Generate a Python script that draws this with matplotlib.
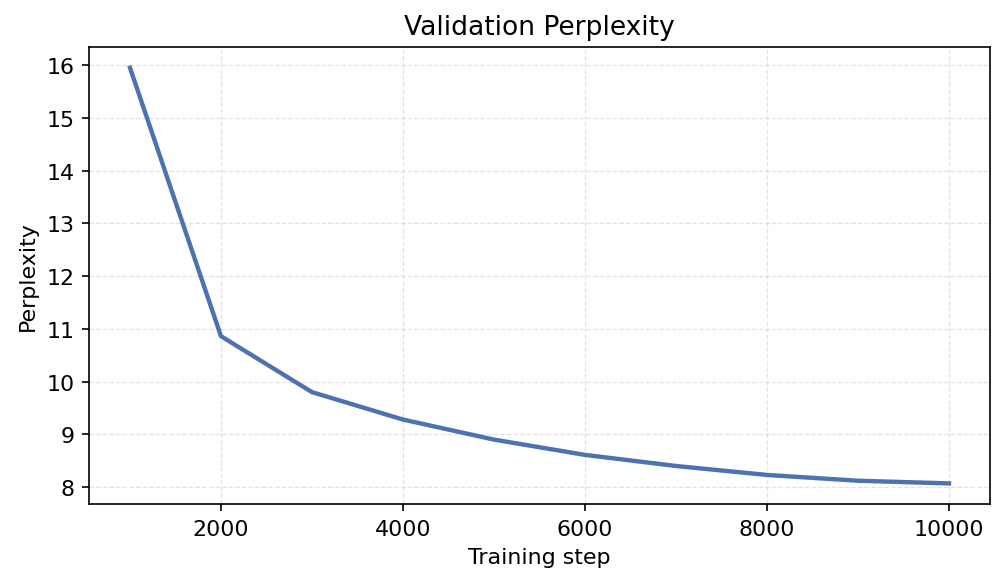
import matplotlib
matplotlib.use('Agg')
import matplotlib.pyplot as plt

steps = [1000, 2000, 3000, 4000, 5000, 6000, 7000, 8000, 9000, 10000]
perplexity = [15.95, 10.86, 9.80, 9.28, 8.90, 8.61, 8.40, 8.23, 8.12, 8.07]

plt.rcParams['font.size'] = 10.6

fig, ax = plt.subplots(figsize=(6.7, 3.893), dpi=150)
ax.plot(steps, perplexity, color='#4C72B0', linewidth=2.1)
ax.set_title('Validation Perplexity')
ax.set_xlabel('Training step')
ax.set_ylabel('Perplexity')
ax.set_xticks([2000, 4000, 6000, 8000, 10000])
ax.grid(True, linestyle='--', linewidth=0.6, alpha=0.35)
fig.subplots_adjust(left=0.0886, right=0.985, top=0.918, bottom=0.135)
plt.savefig('out.png', dpi=150)
plt.close(fig)
